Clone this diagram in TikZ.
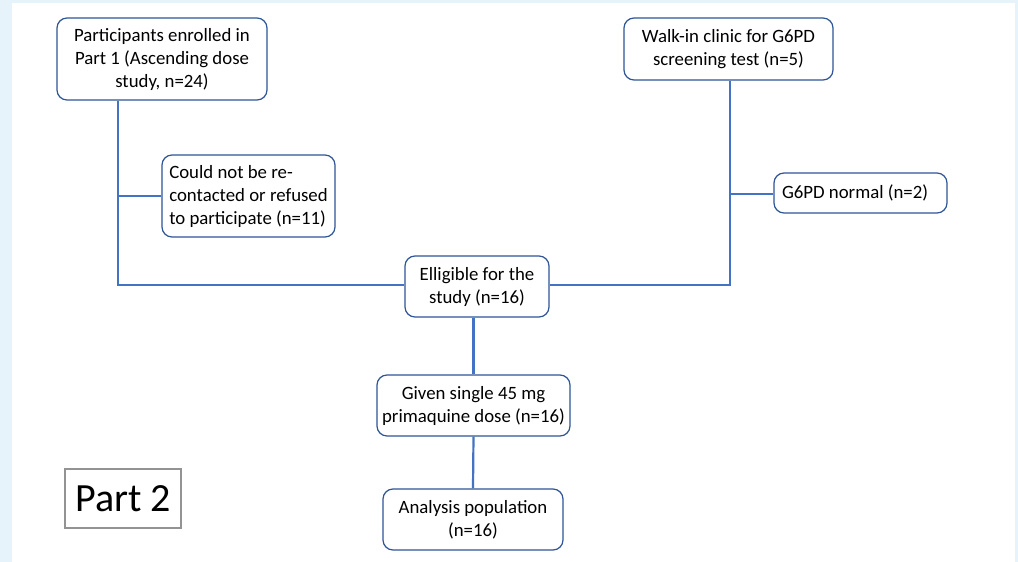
\documentclass[tikz,border=0pt]{standalone}
\usepackage{fontspec}
\setmainfont{Carlito}
\definecolor{frame}{HTML}{E6F3FB}
\definecolor{boxline}{HTML}{2F5597}
\definecolor{conn}{HTML}{4472C4}
\begin{document}
\begin{tikzpicture}[x=1pt,y=-1pt,
  every node/.style={font=\fontsize{18.8}{23}\selectfont},
  rbox/.style={draw=boxline, line width=1.2pt, rounded corners=10pt, fill=white, inner sep=0pt, align=center},
  conline/.style={draw=conn, line width=2.2pt}]
\fill[frame] (0,0) rectangle (1018,562);
\fill[white] (12,3) rectangle (1015,562);
\useasboundingbox (0,0) rectangle (1018,562);
\node[rbox, minimum width=210pt, minimum height=82pt] (A) at (162,59) {Participants enrolled in\\Part 1 (Ascending dose\\study, n=24)};
\node[rbox, minimum width=209pt, minimum height=62pt] (B) at (728.5,49) {Walk-in clinic for G6PD\\screening test (n=5)};
\node[rbox, minimum width=173pt, minimum height=82pt, align=left] (C) at (248.5,196) {Could not be re-\\contacted or refused\\to participate (n=11)};
\node[rbox, minimum width=173pt, minimum height=40pt, text width=157pt, inner xsep=8pt, align=flush left] (D) at (860.5,193) {G6PD normal (n=2)};
\node[rbox, minimum width=144pt, minimum height=61pt] (E) at (477,286.5) {Elligible for the\\study (n=16)};
\node[rbox, minimum width=193pt, minimum height=61pt] (F) at (473.5,405.5) {Given single 45 mg\\primaquine dose (n=16)};
\node[rbox, minimum width=180pt, minimum height=61pt] (G) at (473,519.5) {Analysis population\\(n=16)};
\node[draw=gray!85, line width=1.2pt, minimum width=116pt, minimum height=59pt, inner sep=0pt, font=\fontsize{40}{44}\selectfont] (P) at (123,498.5) {Part 2};
\coordinate (L) at (118,285);
\coordinate (R) at (730,285);
\coordinate (LC) at (118,196);
\coordinate (RD) at (730,194);
\draw[conline] (A.south -| L) -- (L) -- (L -| E.west);
\draw[conline] (LC) -- (C.west |- LC);
\draw[conline] (B.south -| R) -- (R) -- (R -| E.east);
\draw[conline] (RD) -- (D.west |- RD);
\draw[conline] (E.south -| F.north) -- (F.north);
\draw[conline] (F.south) -- (G.north);
\end{tikzpicture}
\end{document}
